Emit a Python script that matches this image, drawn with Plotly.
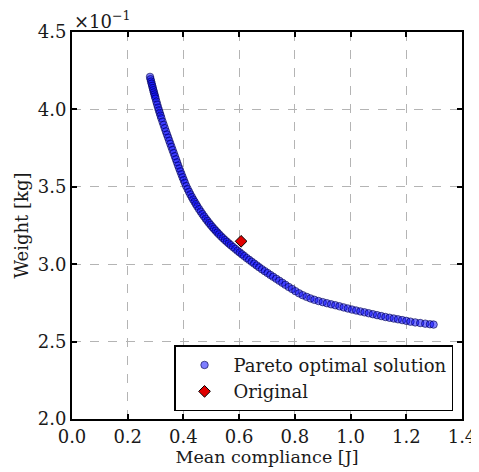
import plotly.graph_objects as go

# Pareto optimal solutions (mean compliance [J], weight [x1e-1 kg])
pareto_x = [0.280, 0.282, 0.284, 0.286, 0.288, 0.290, 0.292, 0.294, 0.296, 0.298,
            0.300, 0.303, 0.306, 0.309, 0.312, 0.315, 0.318, 0.321, 0.325, 0.329,
            0.333, 0.337, 0.341, 0.345, 0.349, 0.353, 0.357, 0.361, 0.365, 0.369,
            0.373, 0.377, 0.381, 0.385, 0.389, 0.393, 0.397, 0.401, 0.405, 0.410,
            0.415, 0.420, 0.425, 0.430, 0.435, 0.440, 0.445, 0.450, 0.456, 0.462,
            0.468, 0.474, 0.480, 0.486, 0.492, 0.498, 0.504, 0.510, 0.516, 0.522,
            0.528, 0.535, 0.542, 0.549, 0.556, 0.563, 0.570, 0.578, 0.586, 0.594,
            0.602, 0.610, 0.618, 0.627, 0.636, 0.645, 0.654, 0.663, 0.672, 0.682,
            0.692, 0.702, 0.712, 0.722, 0.733, 0.744, 0.755, 0.766, 0.778, 0.790,
            0.802, 0.815, 0.828, 0.842, 0.856, 0.870, 0.885, 0.900, 0.915, 0.930,
            0.945, 0.960, 0.975, 0.990, 1.005, 1.020, 1.035, 1.050, 1.065, 1.080,
            1.095, 1.110, 1.125, 1.140, 1.155, 1.170, 1.185, 1.200, 1.215, 1.232,
            1.250, 1.268, 1.285, 1.298]
pareto_y = [4.210, 4.195, 4.180, 4.166, 4.152, 4.138, 4.124, 4.110, 4.097, 4.084,
            4.070, 4.050, 4.031, 4.012, 3.994, 3.977, 3.960, 3.943, 3.921, 3.900,
            3.879, 3.858, 3.838, 3.818, 3.798, 3.778, 3.758, 3.738, 3.718, 3.698,
            3.678, 3.658, 3.638, 3.619, 3.600, 3.581, 3.562, 3.544, 3.526, 3.505,
            3.486, 3.468, 3.451, 3.434, 3.418, 3.403, 3.388, 3.373, 3.356, 3.340,
            3.324, 3.309, 3.294, 3.280, 3.266, 3.253, 3.240, 3.228, 3.216, 3.204,
            3.193, 3.180, 3.168, 3.156, 3.145, 3.134, 3.123, 3.111, 3.099, 3.087,
            3.076, 3.064, 3.053, 3.040, 3.028, 3.016, 3.004, 2.992, 2.980, 2.967,
            2.955, 2.943, 2.931, 2.919, 2.906, 2.893, 2.880, 2.867, 2.853, 2.840,
            2.826, 2.812, 2.800, 2.789, 2.779, 2.770, 2.762, 2.755, 2.748, 2.741,
            2.735, 2.728, 2.721, 2.714, 2.707, 2.701, 2.695, 2.689, 2.683, 2.677,
            2.671, 2.665, 2.659, 2.654, 2.649, 2.644, 2.639, 2.634, 2.629, 2.624,
            2.620, 2.616, 2.612, 2.610]

original_x = [0.607]
original_y = [3.148]

x_ticks = [0.0, 0.2, 0.4, 0.6, 0.8, 1.0, 1.2, 1.4]
y_ticks = [2.0, 2.5, 3.0, 3.5, 4.0, 4.5]

FONT = "DejaVu Serif"
TXT = "#1a1a1a"

fig = go.Figure()
fig.add_trace(go.Scatter(
    x=pareto_x, y=pareto_y, mode="markers", name="Pareto optimal solution",
    marker=dict(symbol="circle", size=7.5, color="rgba(0,0,255,0.5)",
                line=dict(color="rgba(0,0,70,0.6)", width=1)),
))
fig.add_trace(go.Scatter(
    x=original_x, y=original_y, mode="markers", name="Original",
    marker=dict(symbol="diamond", size=9, color="#e00000",
                line=dict(color="black", width=1)),
))

axis_common = dict(
    showline=True, linecolor="black", linewidth=2, mirror="ticks",
    ticks="inside", ticklen=5, tickwidth=1.5, tickcolor="black",
    showgrid=True, gridcolor="#b4b4b4", gridwidth=1.3, griddash="dash",
    zeroline=False, automargin=False,
    tickfont=dict(family=FONT, size=18, color=TXT),
)

fig.update_xaxes(range=[0.0, 1.4], tickvals=x_ticks,
                 ticktext=[f"{v:.1f}" for v in x_ticks],
                 title=dict(text="Mean compliance [J]", font=dict(family=FONT, size=17.5, color=TXT), standoff=2),
                 **axis_common)
fig.update_yaxes(range=[2.0, 4.5], tickvals=y_ticks,
                 ticktext=[f"{v:.1f}" for v in y_ticks],
                 title=dict(text="Weight [kg]", font=dict(family=FONT, size=18, color=TXT), standoff=4),
                 **axis_common)

fig.add_annotation(text="×10<sup>−1</sup>", xref="paper", yref="paper",
                   x=0.0, y=1.0, xanchor="left", yanchor="bottom", showarrow=False,
                   font=dict(family=FONT, size=18, color=TXT), yshift=-2)

# page body adds an 8px offset; figure sized so the plot lands at x 72-462, y 32-419
fig.update_layout(
    width=471, height=464,
    margin=dict(l=64, r=17, t=24, b=53),
    paper_bgcolor="white", plot_bgcolor="white",
    showlegend=True,
    legend=dict(x=0.977, y=0.02, xanchor="right", yanchor="bottom",
                bgcolor="white", bordercolor="black", borderwidth=1.5,
                font=dict(family=FONT, size=18, color=TXT),
                itemwidth=48, tracegroupgap=0),
)

fig.write_html("out.html")
